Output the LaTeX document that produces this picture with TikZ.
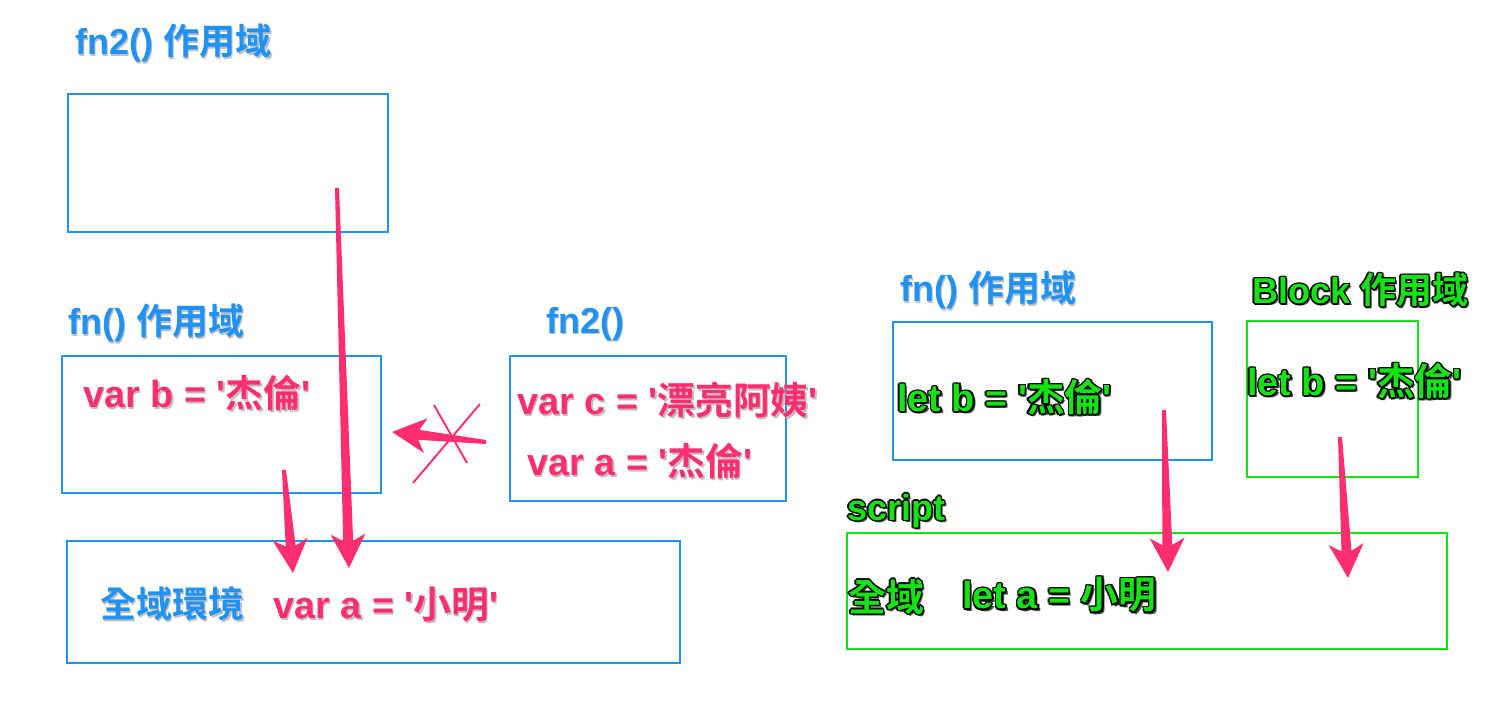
\documentclass[tikz,border=0pt]{standalone}
\usepackage{fontspec}
\usetikzlibrary{calc,fit}
\setmainfont{Liberation Sans}
\IfFontExistsTF{Noto Sans CJK TC Bold}{%
  \newfontfamily\cjk{Noto Sans CJK TC}[BoldFont={Noto Sans CJK TC Bold}]}{%
  \newfontfamily\cjk{Noto Sans CJK TC}[AutoFakeBold=2]}
\definecolor{scblue}{RGB}{33,146,245}
\definecolor{scpink}{RGB}{255,46,110}
\definecolor{scgreen}{RGB}{20,228,20}
\newcommand\q{\textquotesingle}
\tikzset{
  box/.style={draw=scblue, line width=1.4pt, inner sep=0pt},
  gbox/.style={draw=scgreen, line width=1.4pt, inner sep=0pt},
  lbl/.style={anchor=west, inner sep=0pt, font=\bfseries\fontsize{20.5}{24}\selectfont},
  code/.style={anchor=west, inner sep=0pt, font=\bfseries\fontsize{21.5}{25}\selectfont},
  crossline/.style={draw=scpink, line width=1.1pt},
}
% text with soft grey shadow
\newcommand\shtext[6]{% style, name, x, y, colour, text
  \node[#1, text=black!25] at (#3+1.6,#4+1.6) {#6};
  \node[#1, text=#5] (#2) at (#3,#4) {#6};}
% green text with black outline
\newcommand\oltext[5]{% style, name, x, y, text
  \node[#1, text=black!70] at (#3+2.4,#4+2.4) {#5};
  \foreach \dx/\dy in {-1.5/0,1.5/0,0/-1.5,0/1.5,-1.1/-1.1,1.1/1.1,-1.1/1.1,1.1/-1.1}
    {\node[#1, text=black] at (#3+\dx,#4+\dy) {#5};}
  \node[#1, text=scgreen] (#2) at (#3,#4) {#5};}
% tapered pink arrow from tail coordinate to tip coordinate
\newcommand\fatarrow[2]{%
  \coordinate (hb) at ($(#2)!0.68cm!(#1)$);
  \coordinate (hn) at ($(#2)!0.54cm!(#1)$);
  \fill[scpink]
    ($(#1)!0.04cm!90:(#2)$) -- ($(hn)!0.1cm!90:(#2)$) -- ($(hb)!0.35cm!90:(#2)$)
    -- (#2) --
    ($(hb)!0.35cm!-90:(#2)$) -- ($(hn)!0.1cm!-90:(#2)$) -- ($(#1)!0.04cm!-90:(#2)$) -- cycle;}
\begin{document}
\begin{tikzpicture}[x=0.02cm,y=-0.02cm]
\useasboundingbox (0,0) rectangle (1489,720);
\fill[white] (0,0) rectangle (1489,720);
% ---------- left part: boxes
\node[box, fit={(68,94) (388,232)}] (fn2scope) {};
\node[box, fit={(62,356) (381,493)}] (fnscope) {};
\node[box, fit={(67,541) (680,663)}] (global) {};
\node[box, fit={(510,356) (786,501)}] (fn2call) {};
% ---------- left part: texts
\shtext{lbl}{t1}{75}{43}{scblue}{fn2() {\cjk 作用域}}
\shtext{lbl}{t2}{68}{323}{scblue}{fn() {\cjk 作用域}}
\shtext{lbl}{t3}{546}{324}{scblue}{fn2()}
\shtext{code}{t4}{83}{393}{scpink}{var b = \q{\cjk 杰倫}\q}
\shtext{code}{t5}{517}{400}{scpink}{var c = \q{\cjk 漂亮阿姨}\q}
\shtext{code}{t6}{527}{461}{scpink}{var a = \q{\cjk 杰倫}\q}
\shtext{lbl}{t7}{100}{604}{scblue}{{\cjk 全域環境}}
\shtext{code}{t8}{273}{605}{scpink}{var a = \q{\cjk 小明}\q}
% ---------- right part: boxes
\node[box, fit={(893,322) (1212,460)}] (rfn) {};
\node[gbox, fit={(1247,321) (1418,477)}] (rblock) {};
\node[gbox, fit={(847,533) (1447,649)}] (rscript) {};
% ---------- right part: texts
\shtext{lbl}{r1}{900}{290}{scblue}{fn() {\cjk 作用域}}
\oltext{lbl}{r2}{1252}{290}{Block {\cjk 作用域}}
\oltext{code}{r3}{897}{397}{let b = \q{\cjk 杰倫}\q}
\oltext{code}{r4}{1247}{381}{let b = \q{\cjk 杰倫}\q}
\oltext{lbl}{r5}{847}{511}{script}
\oltext{code}{r6}{848}{597}{{\cjk 全域}}
\oltext{code}{r7}{962}{595}{let a = {\cjk 小明}}
% ---------- arrows
\coordinate (a1s) at (337,188); \coordinate (a1e) at (349,568);
\coordinate (a2s) at (284,470); \coordinate (a2e) at (293,573);
\coordinate (a3s) at (486,442); \coordinate (a3e) at (392,432);
\coordinate (a4s) at (1164,410); \coordinate (a4e) at (1168,572);
\coordinate (a5s) at (1340,437); \coordinate (a5e) at (1348,578);
\fatarrow{a1s}{a1e}
\fatarrow{a2s}{a2e}
\fatarrow{a3s}{a3e}
\fatarrow{a4s}{a4e}
\fatarrow{a5s}{a5e}
% cross over the blocked arrow
\coordinate (c1a) at (434,405); \coordinate (c1b) at (467,463);
\coordinate (c2a) at (480,404); \coordinate (c2b) at (413,483);
\draw[crossline] (c1a) -- (c1b);
\draw[crossline] (c2a) -- (c2b);
\end{tikzpicture}
\end{document}
